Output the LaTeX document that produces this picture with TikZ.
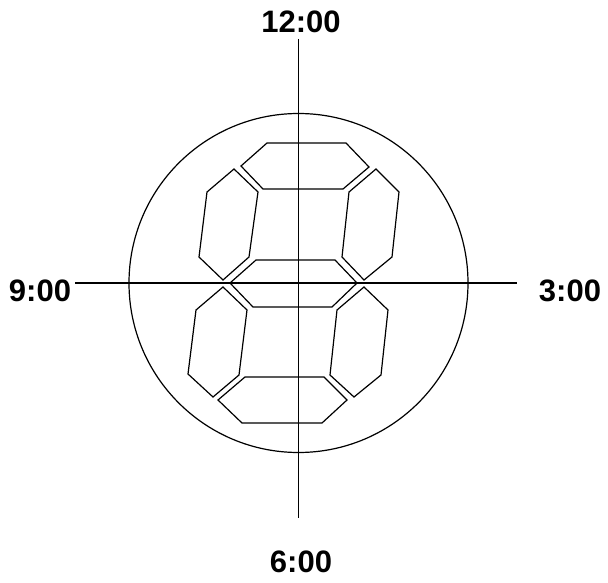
\documentclass[tikz,border=0pt]{standalone}
\usepackage{fontspec}
\setmainfont{Liberation Sans}
\usetikzlibrary{positioning}
\tikzset{
    hour label/.style={font=\fontsize{31}{37}\selectfont\bfseries, inner sep=0pt},
    axis line/.style={line width=1.2pt},
    segment/.style={line width=1.2pt, line join=miter},
    dial/.style={line width=1.2pt}
}

\begin{document}
\begin{tikzpicture}[x=1pt, y=-1pt]
    \useasboundingbox (0,0) rectangle (608,583);
    % dial and cross hairs
    \coordinate (center) at (298.5,283);
    \draw[dial] (center) circle[radius=169.5pt];
    \coordinate (top end) at (298.5,39);
    \coordinate (bottom end) at (298.5,518);
    \coordinate (left end) at (75,283);
    \coordinate (right end) at (517,283);
    \draw[axis line] (top end) -- (bottom end);
    \draw[axis line] (left end) -- (right end);

    \node[hour label] (noon) at (301,22) {12:00};
    \node[hour label] (three) at (570,291) {3:00};
    \node[hour label] (six) at (301,562) {6:00};
    \node[hour label] (nine) at (40,291) {9:00};

    % seven segments
    \draw[segment] (267,143) -- (346,143) -- (369,167) -- (343,189) -- (263,189) -- (241,166) -- cycle;
    \draw[segment] (376,169) -- (399,192) -- (392,257) -- (364,280) -- (342,257) -- (349,192) -- cycle;
    \draw[segment] (364,287) -- (388,310) -- (381,375) -- (354,397) -- (330,375) -- (337,310) -- cycle;
    \draw[segment] (245,377) -- (324,377) -- (347,400) -- (322,423) -- (242,423) -- (218,400) -- cycle;
    \draw[segment] (223,287) -- (247,310) -- (239,375) -- (213,397) -- (188,374) -- (196,310) -- cycle;
    \draw[segment] (234,169) -- (258,192) -- (249,257) -- (223,280) -- (199,257) -- (207,192) -- cycle;
    \draw[segment] (256,260) -- (335,260) -- (357,283) -- (332,307) -- (253,307) -- (230,283) -- cycle;
\end{tikzpicture}
\end{document}
